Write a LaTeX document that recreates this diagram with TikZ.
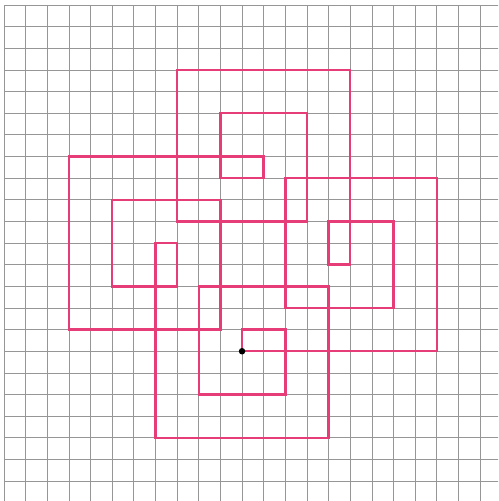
\documentclass[tikz,border=0pt]{standalone}
\definecolor{pinkline}{RGB}{230,60,120}
\definecolor{gridgray}{RGB}{150,150,150}
\tikzset{
  gridlines/.style={draw=gridgray, line width=0.7pt},
  spiral/.style={draw=pinkline, line width=2.4pt, line join=miter},
  startdot/.style={circle, fill=black, inner sep=0pt, minimum size=6.5pt}
}
\begin{document}
\begin{tikzpicture}[x=21.64pt, y=-21.64pt]
\useasboundingbox (-0.185,-0.231) rectangle (22.83,22.92);
\begin{scope}
\clip (-0.185,-0.231) rectangle (22.83,22.92);
\draw[gridlines, step=21.64pt] (0,0) grid (24,24);
\end{scope}
\coordinate (s) at (11,16);
\draw[spiral] (s) -- (20,16) -- (20,8) -- (13,8) -- (13,14) -- (18,14) -- (18,10)
  -- (15,10) -- (15,12) -- (16,12) -- (16,3) -- (8,3) -- (8,10) -- (14,10)
  -- (14,5) -- (10,5) -- (10,8) -- (12,8) -- (12,7) -- (3,7) -- (3,15)
  -- (10,15) -- (10,9) -- (5,9) -- (5,13) -- (8,13) -- (8,11) -- (7,11)
  -- (7,20) -- (15,20) -- (15,13) -- (9,13) -- (9,18) -- (13,18) -- (13,15)
  -- (11,15) -- (s);
\node[startdot] (dot) at (s) {};
\end{tikzpicture}
\end{document}
